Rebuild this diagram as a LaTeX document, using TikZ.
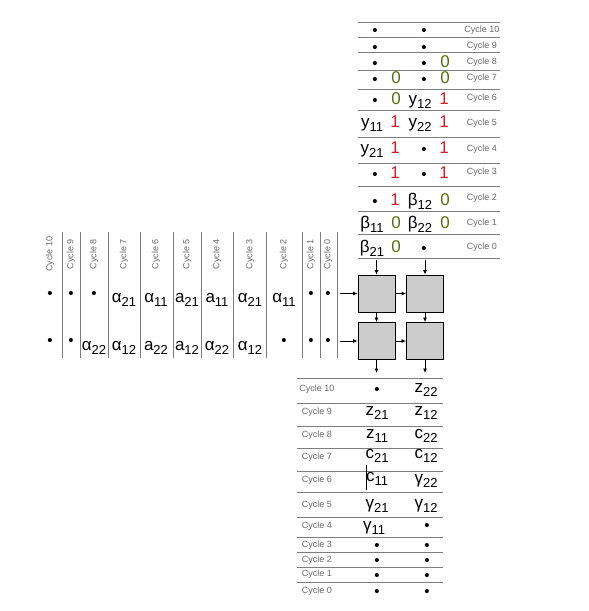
\documentclass[tikz,border=0pt]{standalone}
\usepackage{fontspec}
\setmainfont{Liberation Sans}
\usetikzlibrary{arrows.meta}
\definecolor{zeroc}{RGB}{85,110,20}
\definecolor{onec}{RGB}{200,35,45}
\definecolor{rulec}{RGB}{125,125,125}
\definecolor{cyclec}{RGB}{105,105,105}
\definecolor{pefill}{RGB}{204,204,204}
% letter with a lowered index
\newcommand{\ix}[2]{#1\raisebox{-4.5pt}{\fontsize{13}{13}\selectfont#2}}

\begin{document}
\begin{tikzpicture}[x=1pt, y=-1pt,
  val/.style={anchor=base, inner sep=0pt, font=\fontsize{17}{17}\selectfont},
  zero/.style={val, text=zeroc},
  one/.style={val, text=onec},
  dot/.style={anchor=base, inner sep=0pt, yshift=-1.8pt, font=\fontsize{15}{15}\selectfont},
  cyc/.style={inner sep=0pt, text=cyclec, font=\fontsize{9}{9}\selectfont},
  rule/.style={rulec, line width=0.8pt},
  pe/.style={draw, fill=pefill, line width=0.9pt, minimum size=37pt, inner sep=0pt},
  flow/.style={line width=0.8pt, -{Latex[length=4.5pt,width=4pt]}}
]
\useasboundingbox (0,0) rectangle (589,611);

% table rules
\foreach \y in {22,37,52,70,89,110,137,163,186,211,234,258}
  \draw[rule] (358,\y) -- (500,\y);
\foreach \y in {378,403,426,448,471,492,517,537,552,567,582}
  \draw[rule] (297,\y) -- (443,\y);
\foreach \x in {62,80,108,140,173,201,233,266,302,320,337}
  \draw[rule] (\x,232) -- (\x,358);

% top table (y and beta inputs)
\node[cyc] (tc10) at (482,30) {Cycle 10};
\node[dot] (t10a) at (375,34) {•};
\node[dot] (t10c) at (424,34) {•};
\node[cyc] (tc9) at (482,46) {Cycle 9};
\node[dot] (t9a) at (375,50.5) {•};
\node[dot] (t9c) at (424,50.5) {•};
\node[cyc] (tc8) at (482,62) {Cycle 8};
\node[dot] (t8a) at (375,67) {•};
\node[dot] (t8c) at (424,67) {•};
\node[zero] (t8d) at (445,67) {0};
\node[cyc] (tc7) at (482,78) {Cycle 7};
\node[dot] (t7a) at (375,83) {•};
\node[zero] (t7b) at (396,83) {0};
\node[dot] (t7c) at (424,83) {•};
\node[zero] (t7d) at (445,83) {0};
\node[cyc] (tc6) at (482,98) {Cycle 6};
\node[dot] (t6a) at (375,104) {•};
\node[zero] (t6b) at (396,104) {0};
\node[val] (t6c) at (420,104) {\ix{y}{12}};
\node[one] (t6d) at (444,104) {1};
\node[cyc] (tc5) at (482,123) {Cycle 5};
\node[val] (t5a) at (372,127) {\ix{y}{11}};
\node[one] (t5b) at (395,127) {1};
\node[val] (t5c) at (420,127) {\ix{y}{22}};
\node[one] (t5d) at (444,127) {1};
\node[cyc] (tc4) at (482,149) {Cycle 4};
\node[val] (t4a) at (372,153) {\ix{y}{21}};
\node[one] (t4b) at (395,153) {1};
\node[dot] (t4c) at (424,153) {•};
\node[one] (t4d) at (444,153) {1};
\node[cyc] (tc3) at (482,172) {Cycle 3};
\node[dot] (t3a) at (375,178) {•};
\node[one] (t3b) at (395,178) {1};
\node[dot] (t3c) at (424,178) {•};
\node[one] (t3d) at (444,178) {1};
\node[cyc] (tc2) at (482,198) {Cycle 2};
\node[dot] (t2a) at (375,205) {•};
\node[one] (t2b) at (395,205) {1};
\node[val] (t2c) at (420,205) {\ix{β}{12}};
\node[zero] (t2d) at (445,205) {0};
\node[cyc] (tc1) at (482,223) {Cycle 1};
\node[val] (t1a) at (372,228) {\ix{β}{11}};
\node[zero] (t1b) at (396,228) {0};
\node[val] (t1c) at (420,228) {\ix{β}{22}};
\node[zero] (t1d) at (445,228) {0};
\node[cyc] (tc0) at (482,247) {Cycle 0};
\node[val] (t0a) at (372,252) {\ix{β}{21}};
\node[zero] (t0b) at (396,252) {0};
\node[dot] (t0c) at (424,252) {•};

% left table (alpha and a inputs)
\node[cyc, rotate=90] (lc10) at (50,254) {Cycle 10};
\node[cyc, rotate=90] (lc9) at (71,254) {Cycle 9};
\node[cyc, rotate=90] (lc8) at (94,254) {Cycle 8};
\node[cyc, rotate=90] (lc7) at (124,254) {Cycle 7};
\node[cyc, rotate=90] (lc6) at (156,254) {Cycle 6};
\node[cyc, rotate=90] (lc5) at (187,254) {Cycle 5};
\node[cyc, rotate=90] (lc4) at (217,254) {Cycle 4};
\node[cyc, rotate=90] (lc3) at (250,254) {Cycle 3};
\node[cyc, rotate=90] (lc2) at (284,254) {Cycle 2};
\node[cyc, rotate=90] (lc1) at (311,254) {Cycle 1};
\node[cyc, rotate=90] (lc0) at (328,254) {Cycle 0};

\node[dot] (l10a) at (50,297) {•};
\node[dot] (l9a) at (71,297) {•};
\node[dot] (l8a) at (94,297) {•};
\node[val] (l7a) at (124,302) {\ix{α}{21}};
\node[val] (l6a) at (156,302) {\ix{α}{11}};
\node[val] (l5a) at (187,302) {\ix{a}{21}};
\node[val] (l4a) at (217,302) {\ix{a}{11}};
\node[val] (l3a) at (250,302) {\ix{α}{21}};
\node[val] (l2a) at (284,302) {\ix{α}{11}};
\node[dot] (l1a) at (311,297) {•};
\node[dot] (l0a) at (328,297) {•};

\node[dot] (l10b) at (50,344) {•};
\node[dot] (l9b) at (71,344) {•};
\node[val] (l8b) at (94,350) {\ix{α}{22}};
\node[val] (l7b) at (124,350) {\ix{α}{12}};
\node[val] (l6b) at (156,350) {\ix{a}{22}};
\node[val] (l5b) at (187,350) {\ix{a}{12}};
\node[val] (l4b) at (217,350) {\ix{α}{22}};
\node[val] (l3b) at (250,350) {\ix{α}{12}};
\node[dot] (l2b) at (284,344) {•};
\node[dot] (l1b) at (311,344) {•};
\node[dot] (l0b) at (328,344) {•};

% processing elements
\node[pe] (pe11) at (376.5,293.5) {};
\node[pe] (pe12) at (425,293.5) {};
\node[pe] (pe21) at (376.5,341) {};
\node[pe] (pe22) at (425,341) {};

\coordinate (top1) at (376.5,260);
\coordinate (top2) at (425,260);
\coordinate (in1) at (340,293.5);
\coordinate (in2) at (340,341);
\coordinate (out1) at (376.5,373);
\coordinate (out2) at (425,373);

\draw[flow] (top1) -- (pe11);
\draw[flow] (top2) -- (pe12);
\draw[flow] (in1) -- (pe11);
\draw[flow] (in2) -- (pe21);
\draw[flow] (pe11) -- (pe12);
\draw[flow] (pe21) -- (pe22);
\draw[flow] (pe11) -- (pe21);
\draw[flow] (pe12) -- (pe22);
\draw[flow] (pe21) -- (out1);
\draw[flow] (pe22) -- (out2);

% bottom table (z, c and gamma outputs)
\node[cyc] (bc10) at (317,389) {Cycle 10};
\node[dot] (b10a) at (377,392.5) {•};
\node[val] (b10b) at (426,392) {\ix{z}{22}};
\node[cyc] (bc9) at (317,412) {Cycle 9};
\node[val] (b9a) at (377,415) {\ix{z}{21}};
\node[val] (b9b) at (426,415) {\ix{z}{12}};
\node[cyc] (bc8) at (317,435) {Cycle 8};
\node[val] (b8a) at (377,438) {\ix{z}{11}};
\node[val] (b8b) at (426,438) {\ix{c}{22}};
\node[cyc] (bc7) at (317,457) {Cycle 7};
\node[val] (b7a) at (377,458) {\ix{c}{21}};
\node[val] (b7b) at (426,458) {\ix{c}{12}};
\node[cyc] (bc6) at (317,480) {Cycle 6};
\node[val] (b6a) at (377,481) {\ix{c}{11}};
\node[val] (b6b) at (426,483) {\ix{γ}{22}};
\node[cyc] (bc5) at (317,505) {Cycle 5};
\node[val] (b5a) at (377,508) {\ix{γ}{21}};
\node[val] (b5b) at (426,508) {\ix{γ}{12}};
\node[cyc] (bc4) at (317,526) {Cycle 4};
\node[val] (b4a) at (374,530) {\ix{γ}{11}};
\node[dot] (b4b) at (427,529) {•};
\node[cyc] (bc3) at (317,545) {Cycle 3};
\node[dot] (b3a) at (377,549) {•};
\node[dot] (b3b) at (427,549) {•};
\node[cyc] (bc2) at (317,560) {Cycle 2};
\node[dot] (b2a) at (377,564) {•};
\node[dot] (b2b) at (427,564) {•};
\node[cyc] (bc1) at (317,574) {Cycle 1};
\node[dot] (b1a) at (377,578.5) {•};
\node[dot] (b1b) at (427,578.5) {•};
\node[cyc] (bc0) at (317,591) {Cycle 0};
\node[dot] (b0a) at (377,594.5) {•};
\node[dot] (b0b) at (427,594.5) {•};

% stray mark through c11
\draw[line width=0.8pt] (366,465) -- (366,490);

\end{tikzpicture}
\end{document}
